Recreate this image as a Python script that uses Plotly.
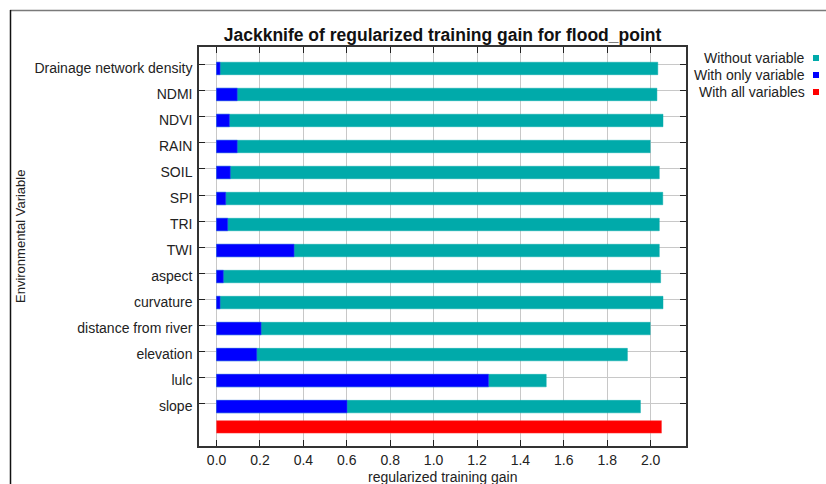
import plotly.graph_objects as go

# Jackknife results (regularized training gain) for flood_point
variables = [
    "Drainage network density", "NDMI", "NDVI", "RAIN", "SOIL", "SPI", "TRI",
    "TWI", "aspect", "curvature", "distance from river", "elevation", "lulc", "slope",
]
gain_without = [2.033, 2.029, 2.057, 1.998, 2.040, 2.056, 2.040,
                2.040, 2.046, 2.057, 1.998, 1.893, 1.519, 1.953]
gain_only = [0.016, 0.095, 0.059, 0.095, 0.063, 0.042, 0.051,
             0.357, 0.031, 0.016, 0.205, 0.185, 1.253, 0.601]
gain_all = [2.050]

x_ticks = [0.0, 0.2, 0.4, 0.6, 0.8, 1.0, 1.2, 1.4, 1.6, 1.8, 2.0]

TEAL = "#00AAAA"
BLUE = "#0000FF"
RED = "#FF0000"
FONT = "Liberation Sans, Arial, sans-serif"
TXT = "#222222"

W, H = 826, 484
L, R, T, B = 199, 140, 47, 38

rows = list(range(len(variables)))
all_row = [len(variables) - 0.22]
bar_w = 0.48
bar_off = -0.105

fig = go.Figure()
fig.add_trace(go.Bar(
    y=rows, x=gain_without, orientation="h", name="Without variable",
    marker=dict(color=TEAL, line=dict(color="rgba(0,170,170,0.45)", width=1)),
    width=bar_w, offset=bar_off, showlegend=False,
))
fig.add_trace(go.Bar(
    y=rows, x=gain_only, orientation="h", name="With only variable",
    marker=dict(color=BLUE, line=dict(color="rgba(60,60,255,0.5)", width=1)),
    width=bar_w, offset=bar_off, showlegend=False,
))
fig.add_trace(go.Bar(
    y=all_row, x=gain_all, orientation="h", name="With all variables",
    marker=dict(color=RED, line=dict(color="rgba(255,60,60,0.5)", width=1)),
    width=bar_w, offset=bar_off, showlegend=False,
))


def px_x(p):
    return (p - L) / (W - L - R)


def px_y(p):
    return 1 - (p - T) / (H - T - B)


# legend: right-aligned labels with a small colour square after each
legend_items = [("Without variable", TEAL), ("With only variable", BLUE), ("With all variables", RED)]
shapes = []
annotations = []
for k, (label, col) in enumerate(legend_items):
    yc = 58 + 17 * k
    annotations.append(dict(
        text=label, xref="paper", yref="paper", x=px_x(807), y=px_y(yc),
        xanchor="right", yanchor="middle", showarrow=False,
        font=dict(family=FONT, size=14, color=TXT),
    ))
    shapes.append(dict(
        type="rect", xref="paper", yref="paper",
        x0=px_x(813), x1=px_x(819), y0=px_y(yc + 3), y1=px_y(yc - 3),
        fillcolor=col, line=dict(width=0),
    ))

# axis titles
annotations.append(dict(
    text="regularized training gain", xref="paper", yref="paper",
    x=px_x(442.5), y=px_y(476.5), xanchor="center", yanchor="middle", showarrow=False,
    font=dict(family=FONT, size=14, color=TXT),
))
annotations.append(dict(
    text="Environmental Variable", xref="paper", yref="paper",
    x=px_x(20), y=px_y(237), xanchor="center", yanchor="middle", showarrow=False,
    textangle=-90, font=dict(family=FONT, size=13, color=TXT),
))

# outer panel frame (top and left edges)
shapes.append(dict(type="line", xref="paper", yref="paper",
                   x0=px_x(10), x1=px_x(830), y0=px_y(10.5), y1=px_y(10.5),
                   line=dict(color="#7a7a7a", width=1.5)))
shapes.append(dict(type="line", xref="paper", yref="paper",
                   x0=px_x(10.5), x1=px_x(10.5), y0=px_y(10), y1=px_y(490),
                   line=dict(color="#111111", width=1.5)))

fig.update_layout(
    width=W, height=H,
    margin=dict(l=L, r=R, t=T, b=B, autoexpand=False),
    paper_bgcolor="white", plot_bgcolor="white",
    barmode="overlay",
    title=dict(
        text="<b>Jackknife of regularized training gain for flood_point</b>",
        x=442.5 / W, xanchor="center",
        y=1 - 35 / H, yanchor="middle",
        font=dict(family=FONT, size=17.5, color="#111111"),
    ),
    xaxis=dict(
        range=[-0.081, 2.163], tickvals=x_ticks,
        ticktext=[f"{v:.1f}" for v in x_ticks],
        showgrid=True, gridcolor="#c8c8c8", gridwidth=1,
        zeroline=False, showline=True, linecolor="#333333", linewidth=1.5,
        mirror="ticks", ticks="inside", ticklen=6, tickcolor=TXT,
        tickfont=dict(family=FONT, size=14, color=TXT),
    ),
    yaxis=dict(
        range=[14.65, -0.69], tickvals=rows, ticktext=variables,
        showgrid=True, gridcolor="#c8c8c8", gridwidth=1,
        zeroline=False, showline=True, linecolor="#333333", linewidth=1.5,
        mirror="ticks", ticks="inside", ticklen=6, tickcolor=TXT,
        tickfont=dict(family=FONT, size=14, color=TXT),
        ticklabelstandoff=2, ticklabelshift=-3,
    ),
    shapes=shapes,
    annotations=annotations,
)

fig.write_html("out.html")
